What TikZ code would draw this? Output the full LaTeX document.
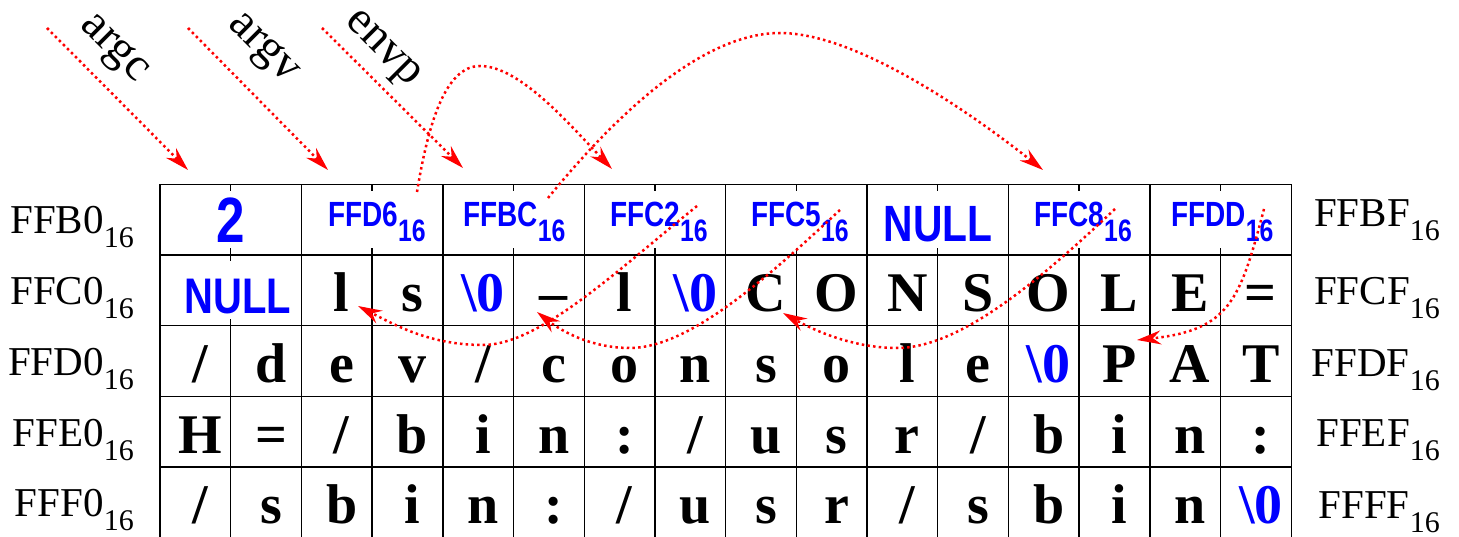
\documentclass[tikz,border=0pt]{standalone}
\usepackage{fontspec}
\setmainfont{Liberation Serif}
\newfontfamily\narrowsans{Liberation Sans}[FakeStretch=0.8]
\usetikzlibrary{arrows.meta}
\definecolor{ptrred}{RGB}{255,0,0}
\definecolor{valblue}{RGB}{0,0,255}
\newcommand\bnul{\textcolor{valblue}{\textbackslash 0}}
\newcommand\lsub[1]{\raisebox{-14pt}{\fontsize{30}{30}\selectfont #1}}
\newcommand\bsub[1]{\raisebox{-15pt}{\fontsize{31}{31}\selectfont #1}}
\begin{document}
\begin{tikzpicture}[x=1pt,y=-1pt,
  gridline/.style={line width=1.4pt, black},
  ch/.style={anchor=base, inner sep=0pt, font=\fontsize{56}{60}\selectfont\bfseries},
  addr/.style={anchor=base east, inner sep=0pt, font=\fontsize{41}{45}\selectfont},
  bval/.style={anchor=base west, inner sep=0pt, text=valblue, font=\narrowsans\bfseries\fontsize{35}{40}\selectfont},
  bbig/.style={anchor=base, inner sep=0pt, text=valblue, font=\narrowsans\bfseries\fontsize{51}{55}\selectfont},
  btwo/.style={anchor=base, inner sep=0pt, text=valblue, font=\narrowsans\bfseries\fontsize{64}{70}\selectfont},
  vname/.style={inner sep=0pt, rotate=-45, font=\fontsize{47}{50}\selectfont},
  ptrline/.style={ptrred, line width=2.5pt, dash pattern=on 2.5pt off 3.2pt,
     -{Stealth[length=24pt,width=14pt,inset=8pt]}},
]
\useasboundingbox (0,0) rectangle (1459,537);

% grid
\foreach \y in {184.3,255,325.6,396.3,467}
  \draw[gridline] (160,\y) -- (1291.2,\y);
\draw[gridline] (160,184.3) -- (160,537.6);
\draw[gridline] (1291.2,184.3) -- (1291.2,537.6);
\foreach \i in {2,4,...,14}
  \draw[gridline] ({160+70.7*\i},184.3) -- ({160+70.7*\i},255);
\foreach \i in {1,3,...,15}{
  \draw[gridline] ({160+70.7*\i},184.3) -- ++(0,6.5);
  \draw[gridline] ({160+70.7*\i},255) -- ++(0,-6.5);
}
\draw[gridline] (230.7,255) -- ++(0,6.5);
\draw[gridline] (230.7,325.6) -- ++(0,-6.5);
\foreach \i in {2,...,15}
  \draw[gridline] ({160+70.7*\i},255) -- ({160+70.7*\i},325.6);
\foreach \i in {1,...,15}
  \draw[gridline] ({160+70.7*\i},325.6) -- ({160+70.7*\i},537.6);

% row labels
\node[addr] (lb0) at (134,234) {FFB0\lsub{16}};
\node[addr] (lb1) at (134,305) {FFC0\lsub{16}};
\node[addr] (lb2) at (134,375.5) {FFD0\lsub{16}};
\node[addr] (lb3) at (134,446) {FFE0\lsub{16}};
\node[addr] (lb4) at (134,516.6) {FFF0\lsub{16}};
\node[addr] (rb0) at (1440,227) {FFBF\lsub{16}};
\node[addr] (rb1) at (1440,305) {FFCF\lsub{16}};
\node[addr] (rb2) at (1440,376) {FFDF\lsub{16}};
\node[addr] (rb3) at (1440,446.5) {FFEF\lsub{16}};
\node[addr] (rb4) at (1440,518) {FFFF\lsub{16}};

% row 1 (pointers)
\node[btwo] (v0) at (230.7,243) {2};
\node[bval] (v1) at (328,226.7) {FFD6\bsub{16}};
\node[bval] (v2) at (463,226.7) {FFBC\bsub{16}};
\node[bval] (v3) at (610,226.7) {FFC2\bsub{16}};
\node[bval] (v4) at (751,226.7) {FFC5\bsub{16}};
\node[bbig] (v5) at (938,241.7) {NULL};
\node[bval] (v6) at (1034,226.7) {FFC8\bsub{16}};
\node[bval] (v7) at (1171,226.7) {FFDD\bsub{16}};

% row 2
\node[bbig, font=\narrowsans\bfseries\fontsize{50}{55}\selectfont] (r2c0) at (238,313) {NULL};
\foreach \c [count=\i from 2] in {l,s,{\bnul},{\textendash},l,{\bnul},C,O,N,S,O,L,E,=}
  \node[ch] (r2c\i) at ({200.35+70.7*\i},311.6) {\c};
% row 3
\foreach \c [count=\i from 0] in {{/},d,e,v,{/},c,o,n,s,o,l,e,{\bnul},P,A,T}
  \node[ch] (r3c\i) at ({200.35+70.7*\i},382.3) {\c};
% row 4
\foreach \c [count=\i from 0] in {H,=,{/},b,i,n,{:},{/},u,s,r,{/},b,i,n,{:}}
  \node[ch] (r4c\i) at ({200.35+70.7*\i},453) {\c};
% row 5
\foreach \c [count=\i from 0] in {{/},s,b,i,n,{:},{/},u,s,r,{/},s,b,i,n,{\bnul}}
  \node[ch] (r5c\i) at ({200.35+70.7*\i},523.6) {\c};

% variable names
\node[vname] (argc) at (113,50) {argc};
\node[vname] (argv) at (262,50) {argv};
\node[vname] (envp) at (381,51) {envp};

\coordinate (argcS) at (47,28);   \coordinate (argcT) at (188,170);
\coordinate (argvS) at (188,28);  \coordinate (argvT) at (328,170);
\coordinate (envpS) at (322,28);  \coordinate (envpT) at (463,168);
\draw[ptrline] (argcS) -- (argcT);
\draw[ptrline] (argvS) -- (argvT);
\draw[ptrline] (envpS) -- (envpT);

% pointer curves
\coordinate (pA) at (417,192); \coordinate (tA) at (612,169);
\coordinate (pB) at (548,198); \coordinate (tB) at (1043,170);
\coordinate (pC) at (697,206); \coordinate (tC) at (358,306);
\coordinate (pD) at (840,210); \coordinate (tD) at (537,312);
\coordinate (pE) at (1115,209); \coordinate (tE) at (783,313);
\coordinate (pF) at (1264,209); \coordinate (tF) at (1137,340);
\draw[ptrline] (pA) .. controls (428,125) and (445,66) .. (480,66)
   .. controls (520,66) and (570,125) .. (tA);
\draw[ptrline] (pB) .. controls (597,138) and (692,33) .. (780,33)
   .. controls (860,33) and (980,120) .. (tB);
\draw[ptrline] (pC) .. controls (620,268) and (540,345) .. (483,345)
   .. controls (430,345) and (395,325) .. (tC);
\draw[ptrline] (pD) .. controls (770,275) and (690,348) .. (630,348)
   .. controls (590,348) and (560,330) .. (tD);
\draw[ptrline] (pE) .. controls (1040,280) and (960,348) .. (897,348)
   .. controls (850,348) and (810,328) .. (tE);
\draw[ptrline] (pF) .. controls (1240,300) and (1230,330) .. (tF);
\end{tikzpicture}
\end{document}
